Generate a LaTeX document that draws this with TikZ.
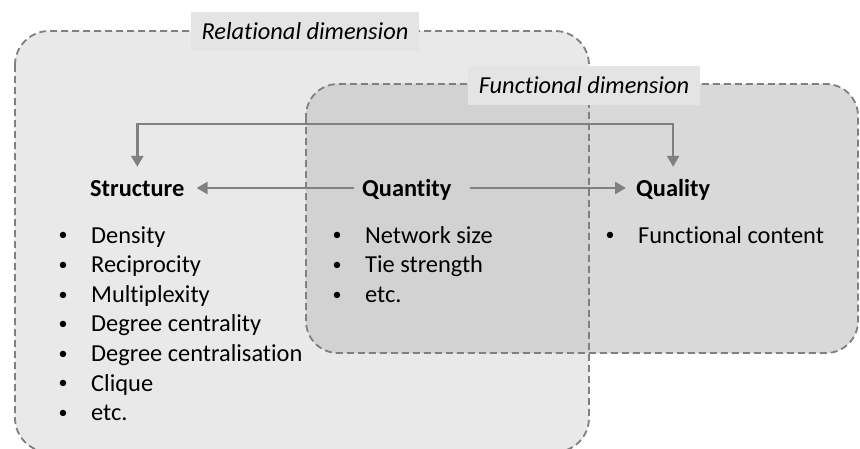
\documentclass[tikz,border=0pt]{standalone}
\usepackage{fontspec}
\setmainfont{Carlito}[Ligatures=NoCommon]
\usetikzlibrary{arrows.meta}
\definecolor{edgegray}{HTML}{808080}
\definecolor{relfill}{HTML}{E9E9E9}
\definecolor{funfill}{HTML}{CACACA}
\definecolor{tagfill}{HTML}{E4E4E4}
\begin{document}
\begin{tikzpicture}[x=1pt,y=-1pt,
  dimbox/.style={draw=edgegray, line width=1.8pt, dash pattern=on 7pt off 4pt, rounded corners=34pt},
  tag/.style={font=\fontsize{24.4}{28}\selectfont\itshape, fill=tagfill, inner xsep=11pt, inner ysep=0pt, minimum height=39pt},
  head/.style={font=\fontsize{24.4}{28}\selectfont\bfseries, inner sep=0pt, text height=16pt, text depth=0pt, anchor=base west},
  items/.style={font=\fontsize{24.4}{29.6}\selectfont, align=left, inner sep=0pt, anchor=base west},
  link/.style={draw=edgegray, line width=2.6pt, -{Triangle[length=11pt,width=12pt]}},
  twolink/.style={draw=edgegray, line width=2.6pt, {Triangle[length=11pt,width=12pt]}-{Triangle[length=11pt,width=12pt]}}
]
% list entry: a small bullet followed by the item text
\newcommand{\itm}[1]{\makebox[34pt][l]{\hspace{1.5pt}\raisebox{2.2pt}{\fontsize{18}{18}\selectfont\textbullet}}#1}
\useasboundingbox (0,0) rectangle (860,448);
\begin{scope}
  \clip (0,0) rectangle (860,448);
  % relational dimension (extends past the lower edge)
  \fill[relfill, rounded corners=34pt] (15,31) rectangle (589,452);
  % functional dimension, translucent so the overlap reads darker
  \fill[funfill, fill opacity=0.72, rounded corners=32pt] (306,84) rectangle (858,353);
  \draw[dimbox] (15,31) rectangle (589,452);
  \draw[dimbox, rounded corners=32pt] (306,84) rectangle (858,353);
\end{scope}

% dimension labels
\node[tag] (reltag) at (305,31) {Relational dimension};
\node[tag] (funtag) at (584,85) {Functional dimension};

% headings
\node[head] (st) at (90,196) {Structure};
\node[head] (qt) at (362,196) {Quantity};
\node[head] (ql) at (636,196) {Quality};

% item lists (anchored at the baseline of their last line)
\node[items] (stlist) at (57,420.6) {\itm{Density}\\ \itm{Reciprocity}\\ \itm{Multiplexity}\\ \itm{Degree centrality}\\ \itm{Degree centralisation}\\ \itm{Clique}\\ \itm{etc.}};
\node[items] (qtlist) at (331,302.2) {\itm{Network size}\\ \itm{Tie strength}\\ \itm{etc.}};
\node[items] (qllist) at (604,243) {\itm{Functional content}};

% connectors
\coordinate (topline) at (0,124);
\draw[twolink, shorten <=13pt, shorten >=13pt] (st.north) -- (st.north |- topline) -- (ql.north |- topline) -- (ql.north);
\draw[link, shorten <=8pt, shorten >=12pt] (qt.west) -- (st.east);
\draw[link, shorten <=18pt, shorten >=10pt] (qt.east) -- (ql.west);
\end{tikzpicture}
\end{document}
